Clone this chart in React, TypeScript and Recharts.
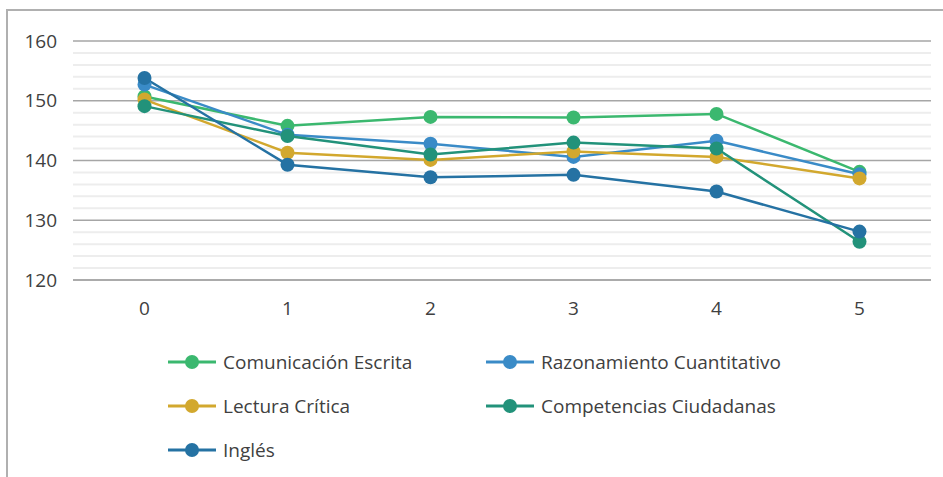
import React from "react";
import { LineChart, Line, XAxis, YAxis, CartesianGrid, Legend } from "recharts";

const categories = [0, 1, 2, 3, 4, 5];
const comunicacionEscrita = [150.7, 145.8, 147.3, 147.2, 147.8, 138.1];
const razonamientoCuantitativo = [152.7, 144.3, 142.8, 140.6, 143.3, 137.7];
const lecturaCritica = [150.2, 141.3, 140.1, 141.5, 140.6, 137.0];
const competenciasCiudadanas = [149.1, 144.1, 141.0, 143.0, 142.0, 126.4];
const ingles = [153.8, 139.3, 137.2, 137.6, 134.8, 128.1];
const yTicks = [120, 122, 124, 126, 128, 130, 132, 134, 136, 138, 140, 142, 144, 146, 148, 150, 152, 154, 156, 158, 160];

const series = [
  { key: "ce", name: "Comunicación Escrita", values: comunicacionEscrita, color: "#3bb86f" },
  { key: "rc", name: "Razonamiento Cuantitativo", values: razonamientoCuantitativo, color: "#3a8bc7" },
  { key: "lc", name: "Lectura Crítica", values: lecturaCritica, color: "#d2a82e" },
  { key: "cc", name: "Competencias Ciudadanas", values: competenciasCiudadanas, color: "#22927a" },
  { key: "in", name: "Inglés", values: ingles, color: "#2572a3" },
];

const data = categories.map((c, i) => {
  const row: Record<string, number> = { x: c };
  series.forEach((s) => {
    row[s.key] = s.values[i];
  });
  return row;
});

const FONT = "'Open Sans', sans-serif";
const TEXT = "#404040";
const FS = 19;

const GridLine = (props: any) => {
  const major = props.index % 5 === 0;
  return (
    <line
      key={props.key}
      x1={props.x1}
      x2={props.x2}
      y1={props.y1}
      y2={props.y2}
      stroke={major ? "#a6a6a6" : "#ededed"}
      strokeWidth={major ? 1.5 : 2}
    />
  );
};

const LegendContent = () => (
  <div
    style={{
      display: "grid",
      gridTemplateColumns: "318px 318px",
      gridAutoRows: "44px",
      fontFamily: FONT,
      fontSize: FS,
      color: TEXT,
    }}
  >
    {series.map((s) => (
      <div key={s.key} style={{ display: "flex", alignItems: "center", height: 44 }}>
        <svg width={48} height={16} style={{ marginRight: 7 }}>
          <line x1={0} x2={48} y1={8} y2={8} stroke={s.color} strokeWidth={3} />
          <circle cx={24} cy={8} r={7} fill={s.color} />
        </svg>
        <span style={{ whiteSpace: "nowrap" }}>{s.name}</span>
      </div>
    ))}
  </div>
);

export default function App() {
  return (
    <div style={{ position: "absolute", left: 0, top: 0, width: 943, height: 477, overflow: "hidden", background: "#fff" }}>
      <div
        style={{
          position: "absolute",
          left: 6,
          top: 9,
          width: 1000,
          height: 1000,
          border: "2px solid #b0b0b0",
          boxSizing: "border-box",
        }}
      />
      <div style={{ position: "absolute", left: 0, top: 0 }}>
        <LineChart
          width={943}
          height={477}
          data={data}
          margin={{ top: 41, right: 12, bottom: 167, left: 13 }}
        >
          <CartesianGrid vertical={false} horizontal={GridLine as any} />
          <XAxis
            dataKey="x"
            type="category"
            scale="band"
            height={30}
            tickSize={0}
            tickMargin={22}
            axisLine={{ stroke: "#a6a6a6", strokeWidth: 1.5 }}
            tickLine={false}
            tick={{ fill: TEXT, fontSize: FS, fontFamily: FONT }}
          />
          <YAxis
            type="number"
            domain={[120, 160]}
            ticks={yTicks}
            interval={0}
            width={60}
            tickSize={0}
            tickMargin={16}
            axisLine={false}
            tickLine={false}
            tickFormatter={(v: number) => (v % 10 === 0 ? String(v) : "")}
            tick={{ fill: TEXT, fontSize: FS, fontFamily: FONT }}
          />
          <Legend
            layout="horizontal"
            verticalAlign="middle"
            align="center"
            content={<LegendContent />}
            wrapperStyle={{ left: 168, top: 340, width: 700, height: 132 }}
          />
          {series.map((s) => (
            <Line
              key={s.key}
              type="linear"
              dataKey={s.key}
              name={s.name}
              stroke={s.color}
              strokeWidth={2.5}
              dot={{ r: 7, fill: s.color, stroke: s.color, strokeWidth: 0 }}
              activeDot={false}
              isAnimationActive={false}
            />
          ))}
        </LineChart>
      </div>
    </div>
  );
}
